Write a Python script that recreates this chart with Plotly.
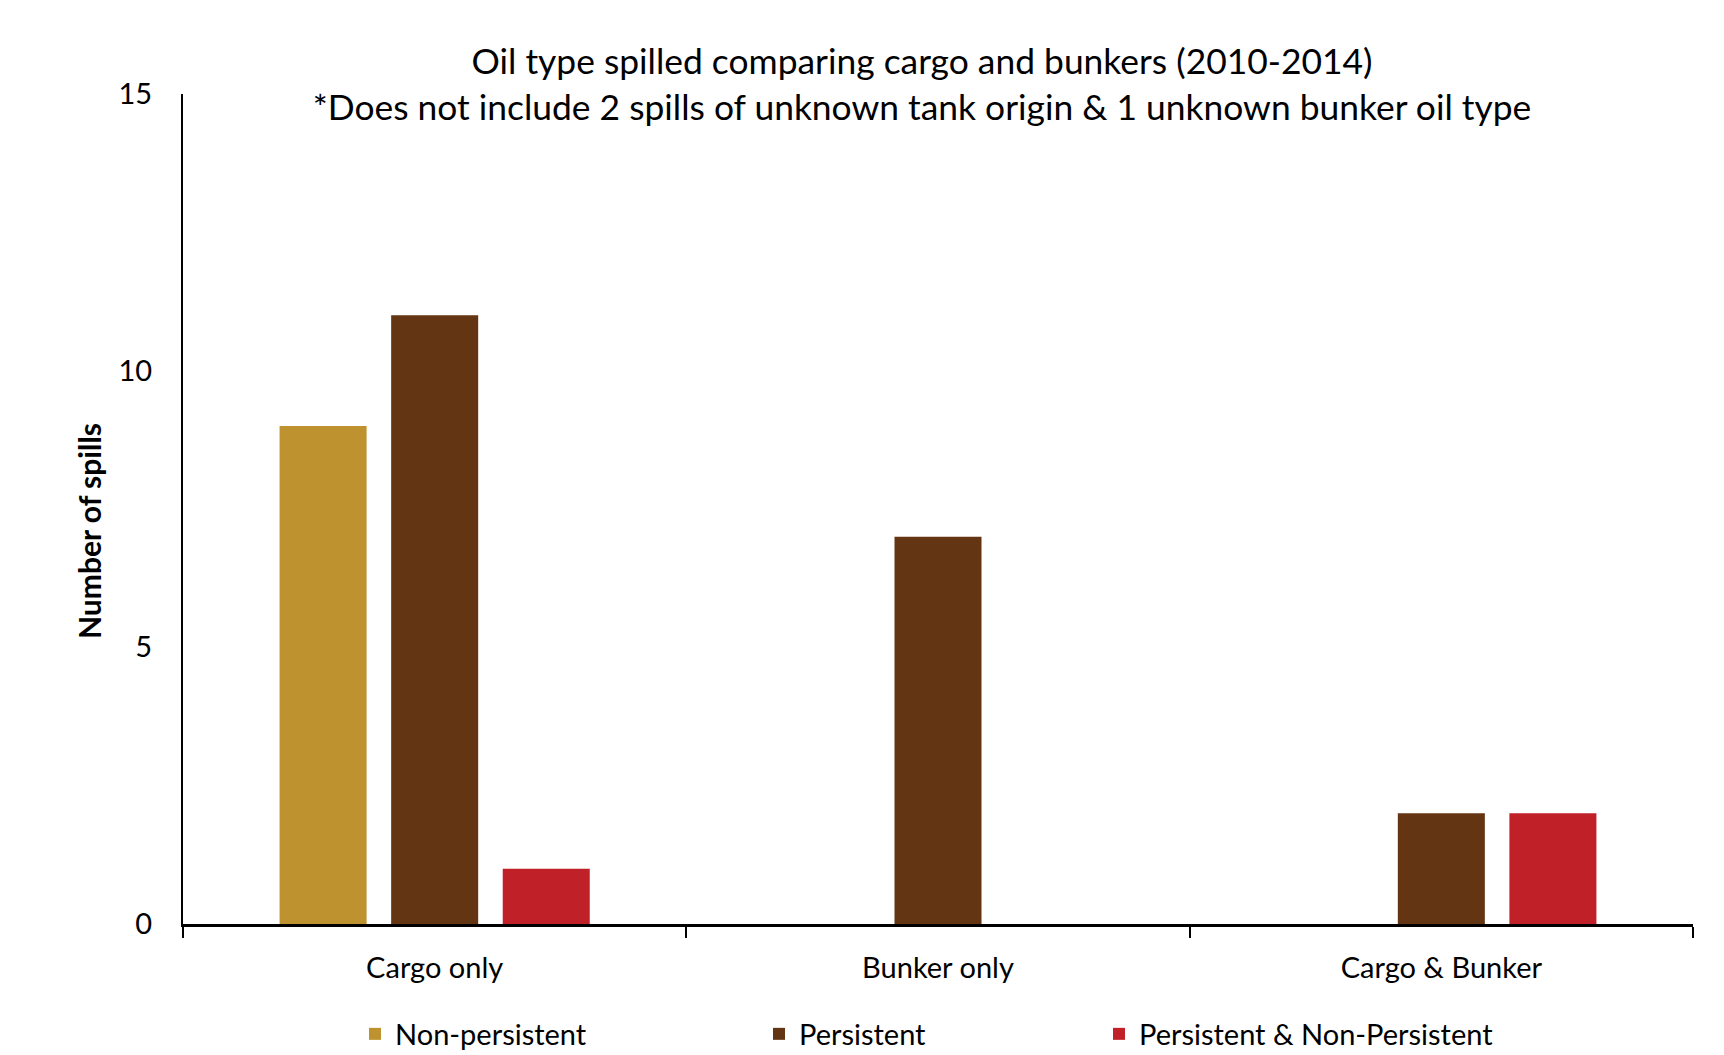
import plotly.graph_objects as go

categories = ["Cargo only", "Bunker only", "Cargo & Bunker"]
non_persistent = [9, 0, 0]
persistent = [11, 7, 2]
persistent_and_non = [1, 0, 2]
series_names = ["Non-persistent", "Persistent", "Persistent & Non-Persistent"]
series_colors = ["#BE932F", "#643513", "#C02028"]
y_ticks = [0, 5, 10, 15]

# page body has an 8px margin, so the figure is sized to fit the window
W, H = 1716, 1047
L, R, T, B = 175, 31, 86, 131
plot_w = W - L - R
plot_h = H - T - B
bottom_px = H - B

FONT = "Lato"

fig = go.Figure()
legend_ids = ["legend", "legend2", "legend3"]
for name, vals, col, lg in zip(series_names, [non_persistent, persistent, persistent_and_non], series_colors, legend_ids):
    fig.add_trace(go.Bar(x=categories, y=vals, name=name, marker=dict(color=col, line=dict(width=0)),
                         legend=lg))

# legend text starting positions (px, page)
text_starts = [396, 800, 1140]
legend_y_px = 1026
leg_common = dict(orientation="h", yanchor="middle", xanchor="left",
                  font=dict(family=FONT, size=29, color="black"), bgcolor="rgba(0,0,0,0)",
                  borderwidth=0)
legs = {}
for lg, ts in zip(legend_ids, text_starts):
    d = dict(leg_common)
    d["x"] = (ts - 49 - L) / plot_w
    d["y"] = (bottom_px - legend_y_px) / plot_h
    legs[lg] = d

fig.update_layout(
    width=W, height=H,
    margin=dict(l=L, r=R, t=T, b=B, autoexpand=False),
    paper_bgcolor="white", plot_bgcolor="white",
    font=dict(family=FONT, color="black"),
    barmode="group", bargap=0.335, bargroupgap=0.22,
    showlegend=True,
    title=dict(text="Oil type spilled comparing cargo and bunkers (2010-2014)<br>*Does not include 2 spills of unknown tank origin & 1 unknown bunker oil type",
               x=914 / W, xanchor="center", xref="container",
               y=1 - 66 / H, yanchor="middle", yref="container",
               font=dict(family=FONT, size=35.4, color="black")),
    annotations=[dict(text="<b>Number of spills</b>", textangle=-90, showarrow=False,
                      xref="paper", yref="paper",
                      x=(81 - L) / plot_w, y=(bottom_px - 523) / plot_h,
                      xanchor="center", yanchor="middle",
                      font=dict(family=FONT, size=30, color="black"))],
    **legs,
)

fig.update_xaxes(showline=True, linecolor="black", linewidth=2.5, ticks="outside", ticklen=11,
                 tickwidth=2, tickcolor="black", tickson="boundaries", showgrid=False, automargin=False,
                 tickfont=dict(family=FONT, size=29, color="black"), ticklabelstandoff=16)
fig.update_yaxes(range=[0, 15], tickvals=y_ticks, showline=True, linecolor="black", linewidth=2,
                 ticks="", showgrid=False, zeroline=False, automargin=False,
                 tickfont=dict(family=FONT, size=29, color="black"), ticklabelstandoff=23)

fig.write_html("out.html")
